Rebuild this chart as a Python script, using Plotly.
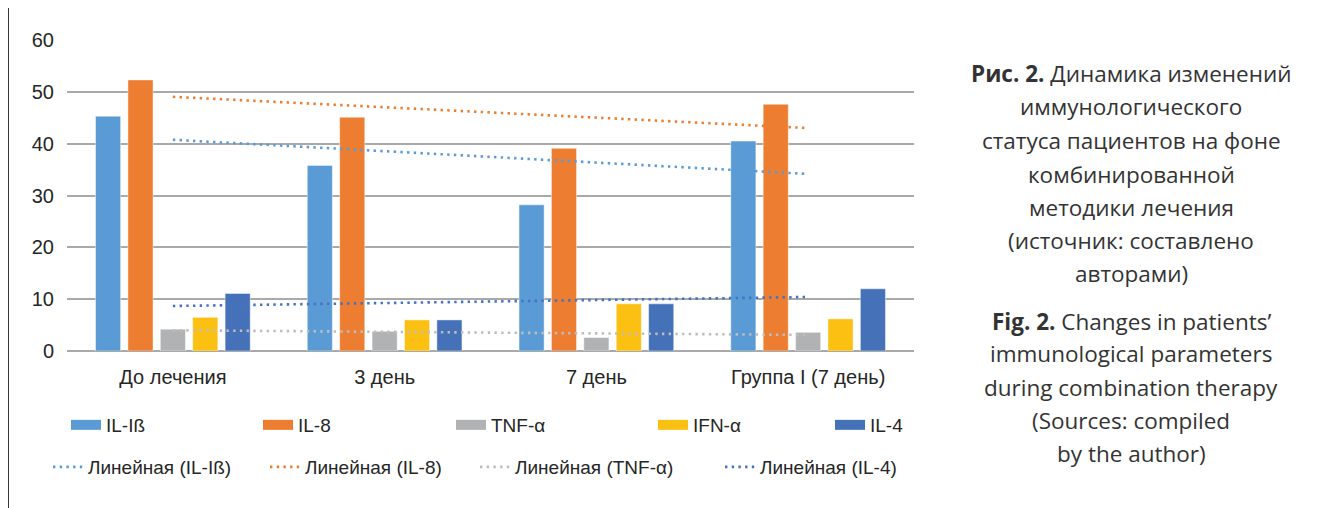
import numpy as np
import plotly.graph_objects as go

# ---------------- data ----------------
categories = ["До лечения", "3 день", "7 день", "Группа I (7 день)"]
series_names = ["IL-Iß", "IL-8", "TNF-α", "IFN-α", "IL-4"]
il1b = [45.3, 35.8, 28.2, 40.5]
il8 = [52.3, 45.1, 39.1, 47.6]
tnfa = [4.2, 3.8, 2.6, 3.6]
ifna = [6.5, 6.0, 9.1, 6.2]
il4 = [11.1, 6.0, 9.1, 12.0]
series_values = [il1b, il8, tnfa, ifna, il4]
trend_series = ["IL-Iß", "IL-8", "TNF-α", "IL-4"]
y_ticks = [0, 10, 20, 30, 40, 50, 60]

caption_ru = ["<b>Рис. 2.</b> Динамика изменений", "иммунологического",
              "статуса пациентов на фоне", "комбинированной",
              "методики лечения", "(источник: составлено", "авторами)"]
caption_en = ["<b>Fig. 2.</b> Changes in patients’", "immunological parameters",
              "during combination therapy", "(Sources: compiled", "by the author)"]

# ---------------- style ----------------
OFF = 8                      # page body margin offset
W, H = 1334 - OFF, 508 - OFF
# plot area in page pixels
PL, PR, PT, PB = 67, 914, 40, 351
L, R, T, B = PL - OFF, PR - OFF, PT - OFF, PB - OFF
bar_colors = {"IL-Iß": "#5B9BD5", "IL-8": "#ED7D31", "TNF-α": "#B1B2B4",
              "IFN-α": "#FCC012", "IL-4": "#4571B9"}
trend_colors = {"IL-Iß": "#5B9BD5", "IL-8": "#ED7D31", "TNF-α": "#BDBDBD",
                "IL-4": "#4472C4"}
AX_FONT = "Liberation Sans, Arial, sans-serif"
CAP_FONT = "Open Sans, Noto Sans, sans-serif"
TXT = "#262626"


def px2x(px):
    """page pixel x -> paper coordinate"""
    return (px - OFF - L) / (R - L)


def px2y(py):
    """page pixel y -> paper coordinate"""
    return (B - (py - OFF)) / (B - T)


fig = go.Figure()

# bars
for name, vals in zip(series_names, series_values):
    fig.add_trace(go.Bar(
        x=categories, y=vals, name=name, legendgroup=name, showlegend=False,
        marker=dict(color=bar_colors[name],
                    line=dict(color="rgba(255,255,255,0.45)", width=1)),
    ))

# legend entries for bars (wide swatches)
row1_widths = [147, 148, 157, 132, 40]
for name, lw in zip(series_names, row1_widths):
    fig.add_trace(go.Scatter(
        x=[None], y=[None], mode="lines", name=name, legendgroup=name,
        legend="legend", legendwidth=lw,
        line=dict(color=bar_colors[name], width=11),
    ))

# linear trendlines (least squares fit over category index)
idx = np.arange(len(categories))
row2_widths = [172, 165, 200, 160]
for name, lw in zip(trend_series, row2_widths):
    vals = series_values[series_names.index(name)]
    k, b = np.polyfit(idx, vals, 1)
    fit = k * idx + b
    fig.add_trace(go.Scatter(
        x=categories, y=fit, mode="lines", name=f"Линейная ({name})",
        legend="legend2", legendwidth=lw,
        line=dict(color=trend_colors[name], width=2.6, dash="2.4px,4.3px"),
        hoverinfo="skip",
    ))

# frame lines
frame = dict(color="#222222", width=1.8)
fig.add_shape(type="line", xref="paper", yref="paper",
              x0=px2x(8), x1=px2x(1340), y0=px2y(7), y1=px2y(7), line=frame)
fig.add_shape(type="line", xref="paper", yref="paper",
              x0=px2x(8), x1=px2x(8), y0=px2y(7), y1=px2y(515), line=frame)

# caption
cx = px2x(1131)
ru_y = [73, 106, 140, 174, 207, 240, 273]
en_y = [321, 354, 387, 420, 453]
for txt, py in zip(caption_ru + caption_en, ru_y + en_y):
    fig.add_annotation(x=cx, y=px2y(py), xref="paper", yref="paper",
                       text=txt, showarrow=False, xanchor="center",
                       yanchor="middle",
                       font=dict(family=CAP_FONT, size=22.5, color="#333333"))

fig.update_layout(
    width=W, height=H,
    margin=dict(l=L, r=W - R, t=T, b=H - B, pad=0),
    paper_bgcolor="white", plot_bgcolor="white",
    barmode="group", bargap=0.235, bargroupgap=0.225,
    font=dict(family=AX_FONT, size=20, color=TXT),
    xaxis=dict(type="category", showgrid=False, showline=False, ticks="",
               ticklabelstandoff=12, tickfont=dict(size=20, color=TXT),
               fixedrange=True),
    yaxis=dict(range=[0, 60], tickvals=y_ticks, showgrid=True,
               gridcolor="#A9A9A9", gridwidth=1.6, zeroline=True,
               zerolinecolor="#A9A9A9", zerolinewidth=1.6, showline=False,
               ticks="", ticklabelstandoff=12, tickfont=dict(size=20, color=TXT),
               fixedrange=True),
    legend=dict(orientation="h", x=px2x(66), xanchor="left",
                y=px2y(425), yanchor="middle", bgcolor="rgba(0,0,0,0)",
                entrywidthmode="pixels", traceorder="normal",
                font=dict(family=AX_FONT, size=19, color=TXT),
                itemclick=False, itemdoubleclick=False),
    legend2=dict(orientation="h", x=px2x(48), xanchor="left",
                 y=px2y(467), yanchor="middle", bgcolor="rgba(0,0,0,0)",
                 entrywidthmode="pixels", traceorder="normal",
                 font=dict(family=AX_FONT, size=19, color=TXT),
                 itemclick=False, itemdoubleclick=False),
    showlegend=True,
)

fig.write_html("out.html")
